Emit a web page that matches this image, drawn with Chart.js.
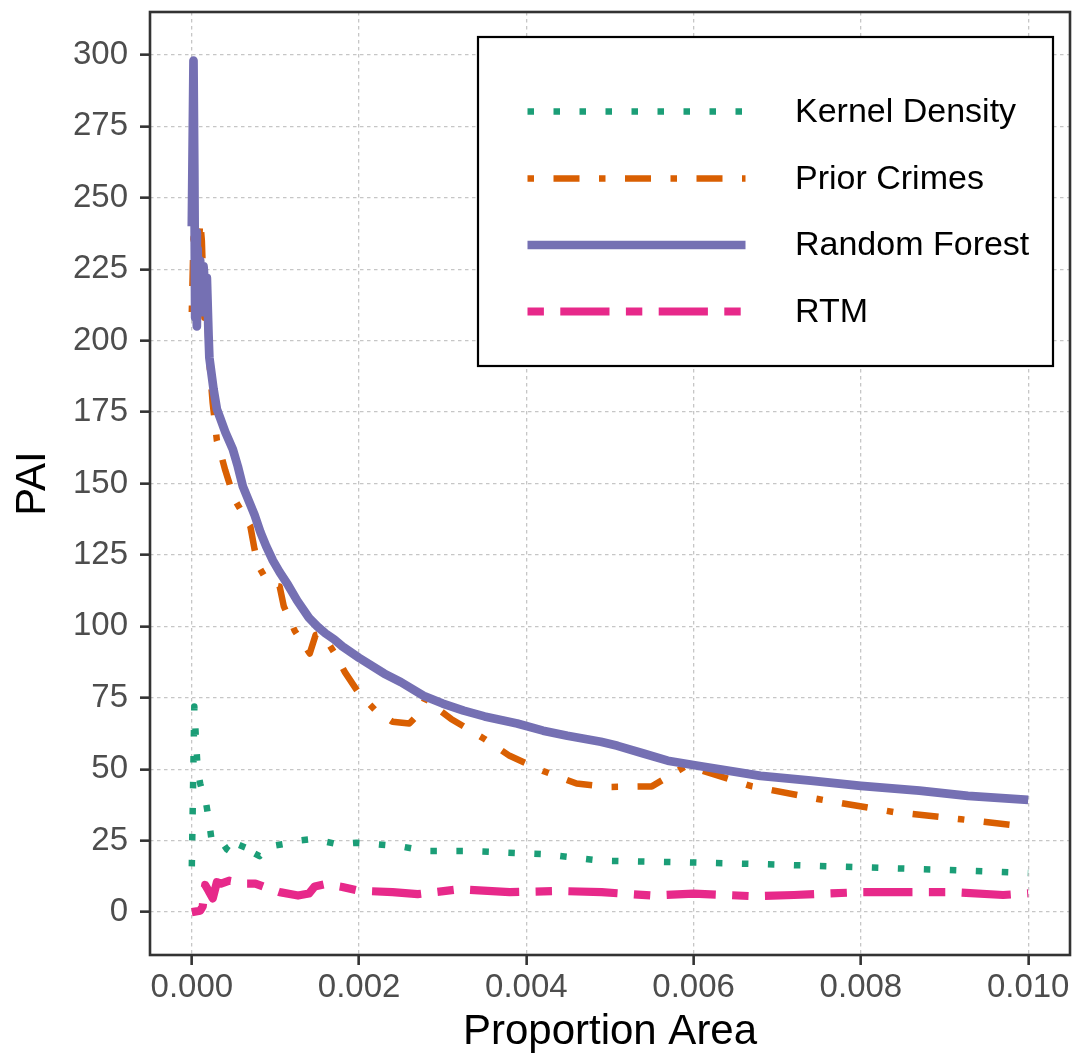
<!DOCTYPE html>
<html>
<head>
<meta charset="utf-8">
<script src="https://cdn.jsdelivr.net/npm/chart.js@4.4.1/dist/chart.umd.min.js"></script>
<style>
  html, body { margin: 0; padding: 0; background: #ffffff; }
  #wrap { width: 1074px; height: 1061px; }
</style>
</head>
<body>
<div id="wrap"><canvas id="c" width="1074" height="1061"></canvas></div>
<script>
// ---- data ----
const seriesNames = ['Kernel Density', 'Prior Crimes', 'Random Forest', 'RTM'];

const kdX = [0, 0.00003, 0.00005, 0.00007, 0.0001, 0.00013, 0.00016, 0.0002, 0.00024, 0.00036, 0.00042, 0.00055, 0.00063, 0.00072, 0.00081, 0.00093, 0.00109, 0.00126, 0.00145, 0.00174, 0.00197, 0.0022, 0.0025, 0.0028, 0.0033, 0.0042, 0.0049, 0.0058, 0.0068, 0.0079, 0.009, 0.01];
const kdY = [16, 72, 60, 50, 45, 42, 40, 33, 24.5, 24.5, 22, 19.3, 25, 21, 19.6, 23, 23.8, 25, 25.6, 23.8, 24.3, 23.8, 23, 21.4, 21.4, 20.3, 18, 17.5, 16.8, 15.8, 14.8, 13.7];

const pcX = [0, 0.00002, 0.00005, 0.00008, 0.0001, 0.00012, 0.00015, 0.00018, 0.0002, 0.00025, 0.0003, 0.00035, 0.0004, 0.00045, 0.0005, 0.0006, 0.0007, 0.00075, 0.0008, 0.00087, 0.00095, 0.00105, 0.0011, 0.00123, 0.00141, 0.00148, 0.00156, 0.0017, 0.00183, 0.002, 0.0022, 0.0024, 0.0026, 0.0027, 0.0028, 0.0029, 0.0031, 0.0035, 0.0038, 0.0042, 0.0046, 0.005, 0.0055, 0.0057, 0.0059, 0.006, 0.0067, 0.0075, 0.0084, 0.0092, 0.01];
const pcY = [210, 236, 212, 230, 242, 235, 208, 218, 196, 178, 165, 160, 154.6, 150, 145, 140, 135, 127, 121, 117.4, 114.5, 114, 107, 98.5, 90.5, 97, 97.5, 91, 84, 76.5, 70.5, 66.6, 66, 69, 75, 72, 67.6, 60.6, 54.7, 49.4, 45, 43.8, 44, 47.5, 51, 50.5, 44, 39.5, 35, 32.5, 29.8];

const rfX = [0, 0.00002, 0.00003, 0.00004, 0.00005, 0.00006, 0.00007, 0.00008, 0.0001, 0.00012, 0.00014, 0.00016, 0.00018, 0.0002, 0.00021, 0.00026, 0.0003, 0.00034, 0.0004, 0.00049, 0.00055, 0.00061, 0.00068, 0.00075, 0.00082, 0.00089, 0.00097, 0.00105, 0.00115, 0.00126, 0.0014, 0.0015, 0.0016, 0.0017, 0.0018, 0.0019, 0.002, 0.0023, 0.0025, 0.00277, 0.003, 0.00325, 0.0035, 0.00389, 0.0042, 0.00449, 0.00489, 0.00509, 0.0054, 0.00569, 0.00605, 0.0068, 0.0074, 0.008, 0.0087, 0.00928, 0.01];
const rfY = [240, 298, 260, 208, 238, 205, 232, 212, 228, 210, 226, 218, 222, 202, 194, 183, 176, 172.8, 168, 162, 156, 149, 144, 139, 133, 128, 123, 119, 114.5, 109, 103, 100, 97.5, 95.5, 93, 91, 89, 83.5, 80.5, 75.7, 73, 70.5, 68.5, 66, 63.5, 61.7, 59.6, 58.2, 55.5, 53, 51.2, 47.7, 46, 44.2, 42.5, 40.7, 39.3];

const rtX = [0, 0.0001, 0.00013, 0.00016, 0.0002, 0.00025, 0.0003, 0.00035, 0.00045, 0.00055, 0.00065, 0.00076, 0.0009, 0.00105, 0.00127, 0.0014, 0.00147, 0.0016, 0.0018, 0.002, 0.0024, 0.0027, 0.0032, 0.0038, 0.0044, 0.0049, 0.0055, 0.006, 0.0067, 0.0072, 0.008, 0.0091, 0.0097, 0.01];
const rtY = [0, 0.5, 2, 9.5, 7.5, 4.8, 10.5, 10, 11, 10.5, 10, 10, 8.5, 7, 5.8, 6.5, 9, 9.8, 8.8, 7.5, 7, 6.3, 8, 7, 7.4, 7, 5.8, 6.5, 5.6, 6, 7, 7, 6, 6.6];

const xTicks = [0, 0.002, 0.004, 0.006, 0.008, 0.010];
const xTickLabels = ['0.000', '0.002', '0.004', '0.006', '0.008', '0.010'];
const yTicks = [0, 25, 50, 75, 100, 125, 150, 175, 200, 225, 250, 275, 300];
const xTitle = 'Proportion Area';
const yTitle = 'PAI';

// ---- styles ----
const colors = ['#1B9E77', '#D95F02', '#7570B3', '#E7298A'];
const widths = [6.5, 6.5, 8.7, 8.2];
const dashes = [[6.5, 19.5], [6.5, 19.5, 26, 19.5], [], [16.4, 16.4, 49.2, 16.4]];
const FONT = "'Liberation Sans', Arial, Helvetica, sans-serif";

function pts(xs, ys) { return xs.map((x, i) => ({ x: x, y: ys[i] })); }
const allData = [pts(kdX, kdY), pts(pcX, pcY), pts(rfX, rfY), pts(rtX, rtY)];

// Chart.js draws the first dataset on top; ggplot draws in order, last on top.
const drawOrder = [3, 2, 1, 0];
const datasets = drawOrder.map(i => ({
  label: seriesNames[i],
  data: allData[i],
  borderColor: colors[i],
  backgroundColor: colors[i],
  borderWidth: widths[i],
  borderDash: dashes[i],
  borderCapStyle: 'butt',
  borderJoinStyle: 'round',
  pointRadius: 0,
  pointHoverRadius: 0,
  tension: 0,
  fill: false
}));

const panelBorder = {
  id: 'panelBorder',
  afterDatasetsDraw(chart) {
    const { ctx, chartArea: a } = chart;
    ctx.save();
    ctx.strokeStyle = '#333333';
    ctx.lineWidth = 2.6;
    ctx.strokeRect(a.left, a.top, a.right - a.left, a.bottom - a.top);
    ctx.restore();
  }
};

const boxLegend = {
  id: 'boxLegend',
  afterDraw(chart) {
    const { ctx } = chart;
    const bx = 478, by = 37, bw = 575, bh = 329;
    ctx.save();
    ctx.fillStyle = '#ffffff';
    ctx.fillRect(bx, by, bw, bh);
    ctx.strokeStyle = '#000000';
    ctx.lineWidth = 2.2;
    ctx.strokeRect(bx, by, bw, bh);
    const rows = [111.5, 178.5, 245, 311.5];
    for (let i = 0; i < seriesNames.length; i++) {
      ctx.beginPath();
      ctx.strokeStyle = colors[i];
      ctx.lineWidth = widths[i];
      ctx.lineCap = 'butt';
      ctx.setLineDash(dashes[i]);
      ctx.moveTo(527.5, rows[i]);
      ctx.lineTo(745.5, rows[i]);
      ctx.stroke();
      ctx.setLineDash([]);
      ctx.fillStyle = '#000000';
      ctx.font = '34px ' + FONT;
      ctx.textAlign = 'left';
      ctx.textBaseline = 'middle';
      ctx.fillText(seriesNames[i], 795, rows[i] + 1);
    }
    ctx.restore();
  }
};

function noPad(s) { s.paddingTop = 0; s.paddingBottom = 0; s.paddingLeft = 0; s.paddingRight = 0; }

Chart.defaults.font.family = FONT;

new Chart(document.getElementById('c'), {
  type: 'line',
  data: { datasets: datasets },
  options: {
    responsive: false,
    devicePixelRatio: 1,
    animation: false,
    events: [],
    layout: { padding: { top: 12, right: 4, left: 0, bottom: 0 } },
    plugins: { legend: { display: false }, tooltip: { enabled: false } },
    scales: {
      x: {
        type: 'linear',
        position: 'bottom',
        min: -0.0005,
        max: 0.0105,
        afterBuildTicks: s => { s.ticks = xTicks.map(v => ({ value: v })); },
        afterFit: s => { s.height = 106; noPad(s); },
        ticks: {
          autoSkip: false,
          maxRotation: 0,
          padding: 3,
          color: '#4D4D4D',
          font: { size: 33 },
          callback: (v) => { const i = xTicks.findIndex(t => Math.abs(t - v) < 1e-9); return i >= 0 ? xTickLabels[i] : ''; }
        },
        grid: {
          color: '#c6c6c6',
          lineWidth: 1.3,
          tickLength: 10,
          tickColor: '#333333',
          tickWidth: 2.6,
          drawOnChartArea: true
        },
        border: { display: false, dash: [3.5, 3.5] },
        title: {
          display: true,
          text: xTitle,
          color: '#000000',
          font: { size: 42 },
          padding: { top: 0, bottom: 3 }
        }
      },
      y: {
        type: 'linear',
        position: 'left',
        min: -15,
        max: 315,
        afterBuildTicks: s => { s.ticks = yTicks.map(v => ({ value: v })); },
        afterFit: s => { s.width = 150; noPad(s); },
        ticks: {
          autoSkip: false,
          padding: 12,
          color: '#4D4D4D',
          font: { size: 33 },
          callback: v => String(v)
        },
        grid: {
          color: '#c6c6c6',
          lineWidth: 1.3,
          tickLength: 10,
          tickColor: '#333333',
          tickWidth: 2.6,
          drawOnChartArea: true
        },
        border: { display: false, dash: [3.5, 3.5] },
        title: {
          display: true,
          text: yTitle,
          color: '#000000',
          font: { size: 42 },
          padding: { top: 8, bottom: 0 }
        }
      }
    }
  },
  plugins: [panelBorder, boxLegend]
});
</script>
</body>
</html>
